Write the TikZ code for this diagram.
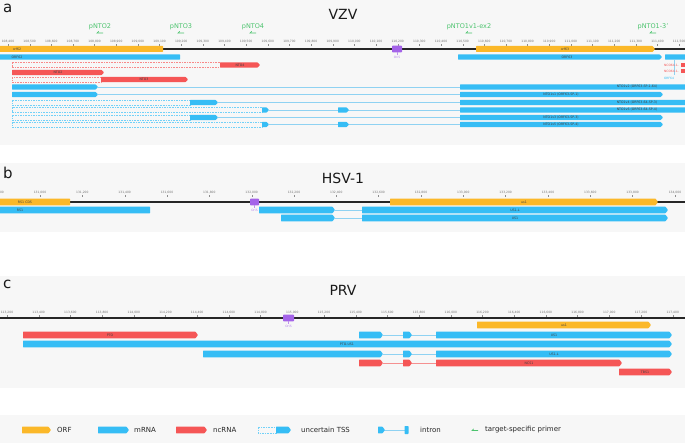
\documentclass[tikz,border=0pt]{standalone}
\usepackage{fontspec}
\setmainfont{DejaVu Sans}
\definecolor{orf}{HTML}{FBB829}
\definecolor{mrna}{HTML}{36BDF5}
\definecolor{ncrna}{HTML}{F55656}
\definecolor{ori}{HTML}{A463E8}
\definecolor{primer}{HTML}{4CC36E}
\definecolor{intr}{HTML}{8FD2F2}
\definecolor{intrred}{HTML}{F59090}
\definecolor{panelbg}{HTML}{F7F7F7}
\tikzset{
  barlab/.style={font=\fontsize{3.2}{3.5}\selectfont, text=black!75, inner sep=0pt},
  ticklab/.style={font=\fontsize{3}{3.5}\selectfont, text=black!55, inner sep=0pt},
  primlab/.style={font=\fontsize{6.5}{7}\selectfont, text=primer, inner sep=0pt},
  ttl/.style={font=\fontsize{14}{16}\selectfont, text=black!90, inner sep=0pt},
  plet/.style={font=\fontsize{15}{17}\selectfont, text=black!90, inner sep=0pt, anchor=west},
  genome/.style={line width=1.1pt, black!85},
  intronline/.style={line width=0.7pt},
  legtxt/.style={font=\fontsize{7}{8}\selectfont, anchor=west, inner sep=0pt, text=black!85},
  smalllab/.style={font=\fontsize{3}{3.5}\selectfont, inner sep=0pt},
}
\def\bh{2.7}
\def\tl{2.5}
% arrow bar: x1 x2 y colour
\newcommand\gA[4]{\fill[#4,rounded corners=0.5pt] ({#1},{#3-\bh}) -- ({#2-\tl},{#3-\bh}) -- ({#2},{#3}) -- ({#2-\tl},{#3+\bh}) -- ({#1},{#3+\bh}) -- cycle;}
% plain bar
\newcommand\gR[4]{\fill[#4,rounded corners=0.5pt] ({#1},{#3-\bh}) rectangle ({#2},{#3+\bh});}
% dashed (uncertain) box
\newcommand\gD[4]{\draw[#4,dash pattern=on 1.6pt off 1pt,line width=0.45pt] ({#1},{#3-\bh+0.2}) rectangle ({#2},{#3+\bh-0.2});}
% intron line
\newcommand\gL[4]{\draw[#4,intronline] ({#1},{#3}) -- ({#2},{#3});}
% primer: x, name, label
\newcommand\prim[3]{\node[primlab] (#2) at (#1,27) {#3};
  \draw[primer,line width=0.6pt] ({#1+3},33) -- ({#1-3},33) -- ({#1-1.3},31.4);}
% origin: x1 x2 y name
\newcommand\oris[4]{\fill[ori,rounded corners=0.6pt] (#1,{#3-3.3}) rectangle (#2,{#3+3.3});
  \draw[ori!70,line width=0.3pt] ({(#1+#2)/2},{#3+3.3}) -- ({(#1+#2)/2},{#3+6.5});
  \node[smalllab,text=ori!80] (#4) at ({(#1+#2)/2},{#3+8.3}) {OriS};}
\begin{document}
\begin{tikzpicture}[x=1pt,y=-1pt]
\useasboundingbox (0,0) rectangle (685,443);
\clip (0,0) rectangle (685,443);
\fill[white] (0,0) rectangle (685,443);
% panel backgrounds
\fill[panelbg] (0,0) rectangle (685,145);
\fill[panelbg] (0,163) rectangle (685,232);
\fill[panelbg] (0,276) rectangle (685,388);
\fill[panelbg] (0,415) rectangle (685,443);

% ================= panel a =================
\node[plet] (la) at (3,8) {a};
\node[ttl] (ta) at (343,14) {VZV};
\prim{100}{p2}{pNTO2}
\prim{181}{p3}{pNTO3}
\prim{253}{p4}{pNTO4}
\prim{469}{p1}{pNTO1v1-ex2}
\prim{653}{p13}{pNTO1-3'}
\foreach \i in {0,...,31}{
  \pgfmathsetmacro\xx{8+\i*21.65}
  \pgfmathtruncatemacro\th{(1084+\i)/10}
  \pgfmathtruncatemacro\hh{mod(1084+\i,10)}
  \node[ticklab] (ka\i) at (\xx,42) {\th,\hh00};
  \draw[black!45,line width=0.3pt] (\xx,44.3) -- (\xx,46.5);
}
\draw[genome] (0,49) -- (685,49);
\def\bh{3}
\gR{-5}{163}{49}{orf}
\node[barlab] (o62) at (17,49) {orf62};
\gA{476}{655}{49}{orf}
\node[barlab] (o63) at (565,49) {orf63};
\oris{392}{402}{49}{oria}
\def\bh{2.7}
% row 1
\gR{-5}{180}{57}{mrna}
\node[barlab] (m62) at (17,57) {ORF62};
\gA{458}{662}{57}{mrna}
\node[barlab] (m63) at (567,57) {ORF63};
\gR{665}{700}{57}{mrna}
\draw[intr,line width=0.4pt] (674,60) -- (674,75.5);
\fill[ncrna] (680.5,63.5) rectangle (690,67);
\fill[ncrna] (680.5,69.5) rectangle (690,73);
\node[smalllab,text=ncrna,anchor=east] (nc1) at (679,65.2) {NCO64-1-};
\node[smalllab,text=ncrna,anchor=east] (nc2) at (679,71.2) {NCO64-1-};
\node[smalllab,text=mrna] (m64) at (669,78.5) {ORF64};
% row 2
\gD{12}{220}{65}{ncrna!70}
\gA{220}{260}{65}{ncrna}
\node[barlab] (n4) at (240,65) {NTO4};
% row 3
\gA{12}{104}{72.5}{ncrna}
\node[barlab] (n2) at (58,72.5) {NTO2};
% row 4
\gD{12}{101}{79.5}{ncrna!70}
\gA{101}{188}{79.5}{ncrna}
\node[barlab] (n3) at (144,79.5) {NTO3};
% row 5
\gL{98}{460}{87}{intr}
\gA{12}{98}{87}{mrna}
\gR{460}{700}{87}{mrna}
\node[barlab] (v2) at (637,87) {NTO1v2 (ORF63-SP-1-64)};
% row 6
\gL{98}{460}{94.5}{intr}
\gA{12}{98}{94.5}{mrna}
\gA{460}{663}{94.5}{mrna}
\node[barlab] (v1) at (561,94.5) {NTO1v1 (ORF63-SP-1)};
% row 7
\gL{218}{460}{102.5}{intr}
\gD{12}{190}{102.5}{mrna!70}
\gA{190}{218}{102.5}{mrna}
\gR{460}{700}{102.5}{mrna}
\node[barlab] (v4) at (637,102.5) {NTO1v4 (ORF63-64-SP-3)};
% row 8
\gL{269}{460}{110}{intr}
\gD{12}{262}{110}{mrna!70}
\gA{262}{269}{110}{mrna}
\gA{338}{349}{110}{mrna}
\gR{460}{700}{110}{mrna}
\node[barlab] (v6) at (637,110) {NTO1v6 (ORF63-64-SP-4)};
% row 9
\gL{218}{460}{117.5}{intr}
\gD{12}{190}{117.5}{mrna!70}
\gA{190}{218}{117.5}{mrna}
\gA{460}{663}{117.5}{mrna}
\node[barlab] (v3) at (561,117.5) {NTO1v3 (ORF63-SP-3)};
% row 10
\gL{269}{460}{124.5}{intr}
\gD{12}{262}{124.5}{mrna!70}
\gA{262}{269}{124.5}{mrna}
\gA{338}{349}{124.5}{mrna}
\gA{460}{663}{124.5}{mrna}
\node[barlab] (v5) at (561,124.5) {NTO1v5 (ORF63-SP-4)};

% ================= panel b =================
\node[plet] (lb) at (3,173) {b};
\node[ttl] (tb) at (343,178) {HSV-1};
\foreach \i in {0,...,16}{
  \pgfmathsetmacro\xx{40+(\i-1)*42.33}
  \pgfmathtruncatemacro\th{(1308+2*\i)/10}
  \pgfmathtruncatemacro\hh{mod(1308+2*\i,10)}
  \node[ticklab] (kb\i) at (\xx,193) {\th,\hh00};
  \draw[black!45,line width=0.3pt] (\xx,195.3) -- (\xx,197.5);
}
\draw[genome] (0,202) -- (685,202);
\def\bh{3.4}
\gR{-5}{70}{202}{orf}
\node[barlab] (rc) at (25,202) {RS1 CDS};
\gA{390}{658}{202}{orf}
\node[barlab] (ub) at (524,202) {us1};
\oris{250}{259}{202}{orib}
\def\bh{3.3}
\gR{-5}{150}{210}{mrna}
\node[barlab] (rs) at (20,210) {RS1};
\gL{335}{362}{210}{intr}
\gA{259}{335}{210}{mrna}
\gA{362}{668}{210}{mrna}
\node[barlab] (ul) at (515,210) {US1-L};
\gL{335}{362}{218}{intr}
\gA{281}{335}{218}{mrna}
\gA{362}{668}{218}{mrna}
\node[barlab] (us) at (515,218) {US1};

% ================= panel c =================
\node[plet] (lc) at (3,284) {c};
\node[ttl] (tc) at (343,290) {PRV};
\foreach \i in {0,...,21}{
  \pgfmathsetmacro\xx{7+\i*31.7}
  \pgfmathtruncatemacro\th{(1132+2*\i)/10}
  \pgfmathtruncatemacro\hh{mod(1132+2*\i,10)}
  \node[ticklab] (kc\i) at (\xx,313) {\th,\hh00};
  \draw[black!45,line width=0.3pt] (\xx,315.3) -- (\xx,317);
}
\draw[genome] (0,318) -- (685,318);
\oris{283}{294}{318}{oric}
\def\bh{3.3}
\gA{477}{651}{325}{orf}
\node[barlab] (uc) at (564,325) {us1};
\gA{23}{198}{335}{ncrna}
\node[barlab] (pto) at (110,335) {PTO};
\gL{383}{436}{335}{intr}
\gA{359}{383}{335}{mrna}
\gA{403}{412}{335}{mrna}
\gA{436}{672}{335}{mrna}
\node[barlab] (usc) at (554,335) {US1};
\gA{23}{672}{344}{mrna}
\node[barlab] (ptous) at (347,344) {PTO-US1};
\gL{383}{436}{354}{intr}
\gA{203}{383}{354}{mrna}
\gA{403}{412}{354}{mrna}
\gA{436}{672}{354}{mrna}
\node[barlab] (ulc) at (554,354) {US1-L};
\gL{383}{436}{363}{intrred}
\gA{359}{383}{363}{ncrna}
\gA{403}{412}{363}{ncrna}
\gA{436}{622}{363}{ncrna}
\node[barlab] (ncs) at (529,363) {NCS1};
\gA{619}{672}{372}{ncrna}
\node[barlab] (tbs) at (645,372) {TBS1};

% ================= legend =================
\def\bh{3.3}
\gA{22}{51}{430}{orf}
\node[legtxt] (lorf) at (57,430) {ORF};
\gA{98}{129}{430}{mrna}
\node[legtxt] (lmr) at (134,430) {mRNA};
\gA{176}{207}{430}{ncrna}
\node[legtxt] (lnc) at (213,430) {ncRNA};
\gD{258}{276}{430}{mrna!70}
\gA{276}{291}{430}{mrna}
\node[legtxt] (ltss) at (301,430) {uncertain TSS};
\gL{384}{405}{430}{intr}
\gA{378}{385}{430}{mrna}
\fill[mrna,rounded corners=0.6pt] (404.5,426) rectangle (408.5,434);
\node[legtxt] (lint) at (420,430) {intron};
\draw[primer,line width=0.6pt] (478,430.5) -- (472,430.5) -- (473.7,428.9);
\node[legtxt] (lpr) at (485,430) {target-specific primer};
\end{tikzpicture}
\end{document}
